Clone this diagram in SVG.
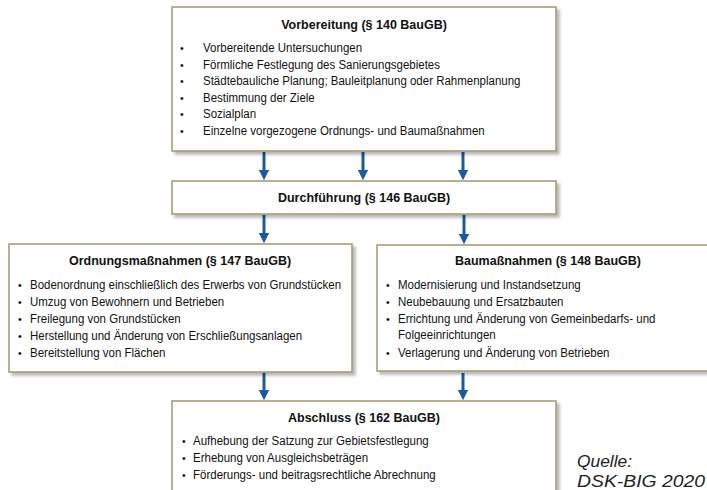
<svg xmlns="http://www.w3.org/2000/svg" width="707" height="490" viewBox="0 0 707 490">
  <defs>
    <filter id="sh" x="-5%" y="-5%" width="115%" height="125%">
      <feDropShadow dx="3" dy="3" stdDeviation="1.5" flood-color="#000" flood-opacity="0.28"/>
    </filter>
    <marker id="ah" viewBox="0 0 10 10" refX="0" refY="5" markerWidth="3.4" markerHeight="3.4" orient="auto" markerUnits="strokeWidth">
      <path d="M0,0 L10,5 L0,10 Z" fill="#1b5a9c"/>
    </marker>
    <style>
      .box{fill:#ffffff;stroke:#a0966f;stroke-width:1.5;filter:url(#sh)}
      .t{font-family:"Liberation Sans",Arial,sans-serif;font-size:13.6px;font-weight:bold;fill:#111;text-anchor:middle}
      .b{font-family:"Liberation Sans",Arial,sans-serif;font-size:12.5px;fill:#111}
      .bu{font-family:"Liberation Sans",Arial,sans-serif;font-size:10.5px;fill:#111}
      .arr{stroke:#1b5a9c;stroke-width:3;fill:none;marker-end:url(#ah)}
      .q{font-family:"Liberation Sans",Arial,sans-serif;font-size:16px;font-style:italic;fill:#222}
    </style>
  </defs>
  <rect width="707" height="490" fill="#ffffff"/>

  <g id="connectors">
    <line class="arr" x1="264" y1="152" x2="264" y2="170"/>
    <line class="arr" x1="363" y1="152" x2="363" y2="170"/>
    <line class="arr" x1="463" y1="152" x2="463" y2="170"/>
    <line class="arr" x1="264" y1="215" x2="264" y2="233"/>
    <line class="arr" x1="464" y1="215" x2="464" y2="234"/>
    <line class="arr" x1="264" y1="373" x2="264" y2="390"/>
    <line class="arr" x1="463" y1="373" x2="463" y2="390"/>
  </g>

  <g id="vorbereitung">
    <rect class="box" x="172" y="7" width="384" height="144"/>
    <text class="t" transform="translate(364,29) scale(0.92,1)">Vorbereitung (§ 140 BauGB)</text>
    <text class="bu" x="180" y="52">•</text><text class="b" transform="translate(203,52) scale(0.92,1)">Vorbereitende Untersuchungen</text>
    <text class="bu" x="180" y="69">•</text><text class="b" transform="translate(203,69) scale(0.92,1)">Förmliche Festlegung des Sanierungsgebietes</text>
    <text class="bu" x="180" y="85">•</text><text class="b" transform="translate(203,85) scale(0.92,1)">Städtebauliche Planung; Bauleitplanung oder Rahmenplanung</text>
    <text class="bu" x="180" y="102">•</text><text class="b" transform="translate(203,102) scale(0.92,1)">Bestimmung der Ziele</text>
    <text class="bu" x="180" y="118">•</text><text class="b" transform="translate(203,118) scale(0.92,1)">Sozialplan</text>
    <text class="bu" x="180" y="135">•</text><text class="b" transform="translate(203,135) scale(0.92,1)">Einzelne vorgezogene Ordnungs- und Baumaßnahmen</text>
  </g>

  <g id="durchfuehrung">
    <rect class="box" x="172" y="181" width="384" height="33"/>
    <text class="t" transform="translate(364,202) scale(0.92,1)">Durchführung (§ 146 BauGB)</text>
  </g>

  <g id="ordnungsmassnahmen">
    <rect class="box" x="9" y="244" width="343" height="128"/>
    <text class="t" transform="translate(180,265) scale(0.92,1)">Ordnungsmaßnahmen (§ 147 BauGB)</text>
    <text class="bu" x="18" y="289">•</text><text class="b" transform="translate(30,289) scale(0.92,1)">Bodenordnung einschließlich des Erwerbs von Grundstücken</text>
    <text class="bu" x="18" y="306">•</text><text class="b" transform="translate(30,306) scale(0.92,1)">Umzug von Bewohnern und Betrieben</text>
    <text class="bu" x="18" y="323">•</text><text class="b" transform="translate(30,323) scale(0.92,1)">Freilegung von Grundstücken</text>
    <text class="bu" x="18" y="340">•</text><text class="b" transform="translate(30,340) scale(0.92,1)">Herstellung und Änderung von Erschließungsanlagen</text>
    <text class="bu" x="18" y="357">•</text><text class="b" transform="translate(30,357) scale(0.92,1)">Bereitstellung von Flächen</text>
  </g>

  <g id="baumassnahmen">
    <rect class="box" x="377" y="245" width="343" height="126"/>
    <text class="t" transform="translate(548,265) scale(0.92,1)">Baumaßnahmen (§ 148 BauGB)</text>
    <text class="bu" x="386" y="289">•</text><text class="b" transform="translate(398,289) scale(0.92,1)">Modernisierung und Instandsetzung</text>
    <text class="bu" x="386" y="306">•</text><text class="b" transform="translate(398,306) scale(0.92,1)">Neubebauung und Ersatzbauten</text>
    <text class="bu" x="386" y="323">•</text><text class="b" transform="translate(398,323) scale(0.92,1)">Errichtung und Änderung von Gemeinbedarfs- und</text>
    <text class="b" transform="translate(398,339) scale(0.92,1)">Folgeeinrichtungen</text>
    <text class="bu" x="386" y="357">•</text><text class="b" transform="translate(398,357) scale(0.92,1)">Verlagerung und Änderung von Betrieben</text>
  </g>

  <g id="abschluss">
    <rect class="box" x="172" y="401" width="384" height="100"/>
    <text class="t" transform="translate(364,422) scale(0.92,1)">Abschluss (§ 162 BauGB)</text>
    <text class="bu" x="182" y="445">•</text><text class="b" transform="translate(193,445) scale(0.92,1)">Aufhebung der Satzung zur Gebietsfestlegung</text>
    <text class="bu" x="182" y="462">•</text><text class="b" transform="translate(193,462) scale(0.92,1)">Erhebung von Ausgleichsbeträgen</text>
    <text class="bu" x="182" y="479">•</text><text class="b" transform="translate(193,479) scale(0.92,1)">Förderungs- und beitragsrechtliche Abrechnung</text>
  </g>

  <g id="quelle">
    <text class="q" x="577" y="467" textLength="55" lengthAdjust="spacingAndGlyphs">Quelle:</text>
    <text class="q" x="577" y="487" textLength="128" lengthAdjust="spacingAndGlyphs">DSK-BIG 2020</text>
  </g>
</svg>
